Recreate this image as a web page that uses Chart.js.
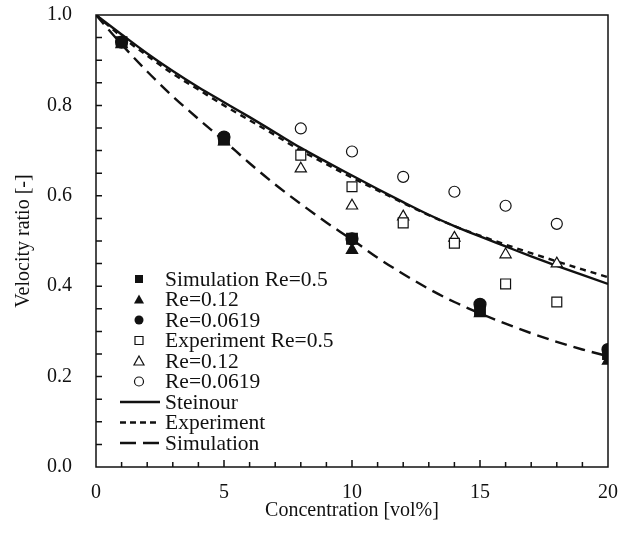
<!DOCTYPE html>
<html>
<head>
<meta charset="utf-8">
<script src="https://cdn.jsdelivr.net/npm/chart.js@4.4.0/dist/chart.umd.min.js"></script>
<style>
  body { margin: 0; background: #fff; }
</style>
</head>
<body>
<canvas id="mychart" width="625" height="547"></canvas>
<script>
// simulation points (filled markers)
var simX = [1, 5, 10, 15, 20];
var simRe05 = [0.94, 0.725, 0.505, 0.345, 0.25];
var simRe012 = [0.935, 0.72, 0.48, 0.34, 0.235];
var simRe0619 = [0.94, 0.73, 0.505, 0.36, 0.26];

// experiment points (open markers)
var expX = [8, 10, 12, 14, 16, 18];
var expRe05 = [0.69, 0.62, 0.54, 0.495, 0.405, 0.365];
var expRe012 = [0.66, 0.578, 0.554, 0.507, 0.47, 0.45];
var expRe0619 = [0.749, 0.698, 0.642, 0.609, 0.578, 0.538];

// fitted curves
var curveX = [0, 1, 2, 3, 4, 5, 6, 7, 8, 9, 10, 11, 12, 13, 14, 15, 16, 17, 18, 19, 20];
var steinour = [1.0, 0.957, 0.915, 0.876, 0.84, 0.807, 0.774, 0.74, 0.706, 0.675, 0.645, 0.615, 0.586, 0.558, 0.533, 0.51, 0.488, 0.466, 0.445, 0.425, 0.405];
var expCurve = [1.0, 0.952, 0.91, 0.87, 0.835, 0.8, 0.767, 0.734, 0.70, 0.67, 0.64, 0.612, 0.584, 0.557, 0.533, 0.512, 0.492, 0.473, 0.455, 0.437, 0.42];
var simCurve = [1.0, 0.935, 0.875, 0.82, 0.77, 0.722, 0.672, 0.625, 0.582, 0.541, 0.503, 0.463, 0.427, 0.394, 0.365, 0.34, 0.317, 0.296, 0.277, 0.26, 0.245];

var xTicks = [0, 5, 10, 15, 20];
var yTicks = [0, 0.2, 0.4, 0.6, 0.8, 1.0];

var ink = "#111";
var serif = "'Liberation Serif', 'Times New Roman', serif";

function pts(xs, ys) {
  return xs.map(function(x, i) { return { x: x, y: ys[i] }; });
}

function markers(label, xs, ys, style, filled, r, order) {
  return {
    label: label,
    data: pts(xs, ys),
    showLine: false,
    pointStyle: style,
    pointRadius: r,
    pointBorderWidth: 1.2,
    pointBorderColor: ink,
    pointBackgroundColor: filled ? ink : "#fff",
    order: order
  };
}

function curve(label, ys, dash) {
  return {
    label: label,
    data: pts(curveX, ys),
    showLine: true,
    pointRadius: 0,
    borderColor: ink,
    borderWidth: 2.4,
    borderDash: dash,
    cubicInterpolationMode: "monotone",
    order: 10
  };
}

// frame, inward ticks and the legend box
var extras = {
  id: "extras",
  afterDraw: function(chart) {
    var c = chart.ctx, a = chart.chartArea;
    var xs = chart.scales.x, ys = chart.scales.y;
    c.save();
    c.strokeStyle = ink;
    c.lineWidth = 1.5;
    c.strokeRect(a.left, a.top, a.right - a.left, a.bottom - a.top);
    c.beginPath();
    for (var i = 1; i < 20; i++) {
      var px = xs.getPixelForValue(i);
      c.moveTo(px, a.bottom);
      c.lineTo(px, a.bottom - (i % 5 == 0 ? 7 : 5));
    }
    for (var j = 1; j < 20; j++) {
      var py = ys.getPixelForValue(j * 0.05);
      c.moveTo(a.left, py);
      c.lineTo(a.left + 6, py);
    }
    c.stroke();

    // legend
    var rows = [
      ["rect", true, "Simulation Re=0.5"],
      ["triangle", true, "Re=0.12"],
      ["circle", true, "Re=0.0619"],
      ["rect", false, "Experiment Re=0.5"],
      ["triangle", false, "Re=0.12"],
      ["circle", false, "Re=0.0619"],
      ["line", [], "Steinour"],
      ["line", [6, 4], "Experiment"],
      ["line", [16, 7], "Simulation"]
    ];
    var lx = 139, tx = 165, ly = 279, step = 20.5;
    c.font = "21.5px " + serif;
    c.textBaseline = "middle";
    c.fillStyle = ink;
    rows.forEach(function(r, k) {
      var y = ly + k * step;
      c.lineWidth = 1.2;
      c.setLineDash([]);
      if (r[0] == "line") {
        c.lineWidth = 2.4;
        c.setLineDash(r[1]);
        c.beginPath();
        c.moveTo(120, y);
        c.lineTo(160, y);
        c.stroke();
        c.setLineDash([]);
      } else {
        c.beginPath();
        if (r[0] == "rect") {
          c.rect(lx - 4, y - 4, 8, 8);
        } else if (r[0] == "triangle") {
          c.moveTo(lx, y - 5);
          c.lineTo(lx + 5, y + 4);
          c.lineTo(lx - 5, y + 4);
          c.closePath();
        } else {
          c.arc(lx, y, 4.5, 0, Math.PI * 2);
        }
        if (r[1]) { c.fill(); } else { c.stroke(); }
      }
      c.fillText(r[2], tx, y + 1);
    });
    c.restore();
  }
};

var ctx = document.getElementById("mychart").getContext("2d");
var chart = new Chart(ctx, {
  type: "scatter",
  data: {
    datasets: [
      curve("Steinour", steinour, []),
      curve("Experiment", expCurve, [6, 5]),
      curve("Simulation", simCurve, [12, 7]),
      markers("Simulation Re=0.0619", simX, simRe0619, "circle", true, 6, 3),
      markers("Simulation Re=0.12", simX, simRe012, "triangle", true, 6.5, 2),
      markers("Simulation Re=0.5", simX, simRe05, "rect", true, 7.5, 1),
      markers("Experiment Re=0.5", expX, expRe05, "rect", false, 7, 1),
      markers("Experiment Re=0.12", expX, expRe012, "triangle", false, 6.5, 1),
      markers("Experiment Re=0.0619", expX, expRe0619, "circle", false, 5.5, 1)
    ]
  },
  options: {
    responsive: false,
    animation: false,
    layout: { padding: { left: 0, top: 15, right: 17, bottom: 0 } },
    plugins: { legend: { display: false }, tooltip: { enabled: false } },
    scales: {
      x: {
        type: "linear",
        min: 0,
        max: 20,
        afterFit: function(s) { s.height = 80; s.paddingLeft = 0; s.paddingRight = 0; },
        afterBuildTicks: function(s) { s.ticks = xTicks.map(function(v) { return { value: v }; }); },
        grid: { display: false, drawTicks: false },
        border: { display: false },
        ticks: { padding: 14, color: ink, font: { family: serif, size: 20 } },
        title: { display: true, text: "Concentration [vol%]", color: ink, font: { family: serif, size: 20 }, padding: { top: 0, bottom: 24 } }
      },
      y: {
        min: 0,
        max: 1,
        afterFit: function(s) { s.width = 96; s.paddingTop = 0; s.paddingBottom = 0; },
        afterBuildTicks: function(s) { s.ticks = yTicks.map(function(v) { return { value: v }; }); },
        grid: { display: false, drawTicks: false },
        border: { display: false },
        ticks: { padding: 24, color: ink, font: { family: serif, size: 20 }, callback: function(v) { return v.toFixed(1); } },
        title: { display: true, text: "Velocity ratio [-]", color: ink, font: { family: serif, size: 20 }, padding: { top: 12, bottom: 0 } }
      }
    }
  },
  plugins: [extras]
});
</script>
</body>
</html>
